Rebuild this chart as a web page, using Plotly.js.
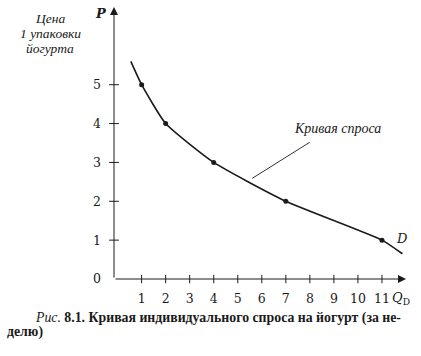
<!DOCTYPE html>
<html><head><meta charset="utf-8">
<script src="https://cdn.plot.ly/plotly-3.0.1.min.js"></script>
<style>html,body{margin:0;padding:0;background:#fff;}#chart{width:421px;height:356px;}</style>
</head><body><div id="chart"></div>
<script>
// Data points on the demand curve
var quantity = [1, 2, 4, 7, 11];
var price = [5, 4, 3, 2, 1];
// Curve drawn through the points, slightly extended at both ends
var curveQ = [0.55, 1, 2, 4, 7, 11, 11.85];
var curveP = [5.6, 5, 4, 3, 2, 1, 0.65];
// Tick values
var xTicks = [1, 2, 3, 4, 5, 6, 7, 8, 9, 10, 11];
var yTicks = [0, 1, 2, 3, 4, 5];
var yTickMarks = [1, 2, 3, 4, 5];

var X0 = -0.15, XMAX = 12.0, YMAX = 7.0;
var serif = 'DejaVu Serif';
var times = 'Liberation Serif';
var ink = '#1a1a1a';

var traces = [
  {x: curveQ, y: curveP, mode: 'lines', line: {color: ink, width: 1.6, shape: 'spline', smoothing: 0.5}, hoverinfo: 'skip'},
  {x: quantity, y: price, mode: 'markers', marker: {color: ink, size: 5}, hoverinfo: 'skip'},
  {x: xTicks, y: xTicks.map(function(){return 0;}), mode: 'markers', cliponaxis: false,
   marker: {symbol: 'line-ns', size: 6, line: {color: ink, width: 1}}, hoverinfo: 'skip'},
  {x: yTickMarks.map(function(){return X0;}), y: yTickMarks, mode: 'markers', cliponaxis: false,
   marker: {symbol: 'line-ew', size: 7, line: {color: ink, width: 1}}, hoverinfo: 'skip'}
];

function px(x){ return (x - 114) / 292; }
function py(y){ return (279 - y) / 272; }
function label(xp, yp, text, size, family, anchor){
  return {xref: 'paper', yref: 'paper', x: px(xp), y: py(yp), text: text, showarrow: false,
    xanchor: anchor || 'center', yanchor: 'middle', font: {family: family, size: size, color: ink}};
}

var layout = {
  width: 421, height: 356,
  margin: {l: 114, r: 15, t: 7, b: 77},
  paper_bgcolor: '#fff', plot_bgcolor: '#fff',
  showlegend: false,
  font: {family: serif, color: ink},
  xaxis: {range: [X0, XMAX], showgrid: false, zeroline: false, showline: false,
    tickmode: 'array', tickvals: xTicks, ticktext: xTicks.map(String), ticks: '',
    ticklabelstandoff: 10, tickfont: {family: serif, size: 12.5, color: ink}, fixedrange: true},
  yaxis: {range: [0, YMAX], showgrid: false, zeroline: false, showline: false,
    tickmode: 'array', tickvals: yTicks, ticktext: yTicks.map(String), ticks: '',
    ticklabelstandoff: 12, tickfont: {family: serif, size: 12.5, color: ink}, fixedrange: true},
  annotations: [
    // axis arrows
    {x: XMAX, y: 0, ax: X0, ay: 0, axref: 'x', ayref: 'y', xref: 'x', yref: 'y', text: '',
     showarrow: true, arrowhead: 2, arrowsize: 1.6, arrowwidth: 1, arrowcolor: ink},
    {x: X0, y: YMAX, ax: X0, ay: 0, axref: 'x', ayref: 'y', xref: 'x', yref: 'y', text: '',
     showarrow: true, arrowhead: 2, arrowsize: 1.6, arrowwidth: 1, arrowcolor: ink},
    // axis letters
    label(101, 13, '<b><i>P</i></b>', 13, serif),
    label(401, 298, '<i>Q</i><sub>D</sub>', 13, serif),
    // y title
    label(50, 19, '<i>Цена</i>', 13.5, times),
    label(50, 34, '<i>1 упаковки</i>', 13.5, times),
    label(50, 48, '<i>йогурта</i>', 13.5, times),
    // curve label
    label(337, 128, '<i>Кривая спроса</i>', 14, times),
    {x: 5.6, y: 2.59, xref: 'x', yref: 'y', ax: 59, ay: -37, text: '', showarrow: true,
     arrowhead: 0, arrowwidth: 1, arrowcolor: '#333', standoff: 0},
    label(402, 238, '<i>D</i>', 13, serif),
    // caption
    label(33, 318, '<i>Рис.</i> <b>8.1. Кривая индивидуального спроса на йогурт (за не-</b>', 13.8, times, 'left'),
    label(5, 332, '<b>делю)</b>', 13.8, times, 'left')
  ]
};

Plotly.newPlot('chart', traces, layout, {displayModeBar: false, staticPlot: true});
</script></body></html>
